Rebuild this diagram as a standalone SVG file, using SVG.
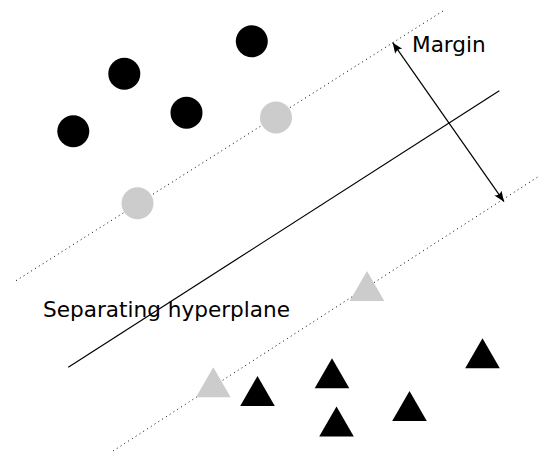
<svg xmlns="http://www.w3.org/2000/svg" width="549" height="455" viewBox="0 0 549 455">
  <style>
    .pos { fill: #000000; }
    .sv { fill: #cccccc; }
    .dot { fill: none; stroke: #000000; stroke-width: 1; stroke-dasharray: 1 3.5; }
    .solid { fill: none; stroke: #000000; stroke-width: 1.2; }
    .lbl { font-family: "DejaVu Sans", "Liberation Sans", sans-serif; font-size: 21.6px; fill: #000000; }
  </style>
  <defs>
    <marker id="ah" viewBox="-12 -6 13 12" refX="0" refY="0" markerWidth="13" markerHeight="12" markerUnits="userSpaceOnUse" orient="auto-start-reverse">
      <path d="M0,0 L-10.5,-4.3 Q-7.5,0 -10.5,4.3 Z" fill="#000000"/>
    </marker>
  </defs>
  <rect x="0" y="0" width="549" height="455" fill="#ffffff"/>
  <g id="connectors">
    <line class="dot" x1="16" y1="280.7" x2="443" y2="11"/>
    <line class="dot" x1="113" y1="451" x2="538.5" y2="176.5"/>
    <line class="solid" x1="68.3" y1="367.3" x2="499.3" y2="90.7"/>
    <line class="solid" x1="392.7" y1="42.7" x2="504" y2="201.7" marker-start="url(#ah)" marker-end="url(#ah)"/>
  </g>
  <g id="circle1"><circle class="pos" cx="73.3" cy="131.3" r="16"/></g>
  <g id="circle2"><circle class="pos" cx="124.3" cy="73.8" r="16"/></g>
  <g id="circle3"><circle class="pos" cx="186.5" cy="112.8" r="16"/></g>
  <g id="circle4"><circle class="pos" cx="251.8" cy="41.3" r="16"/></g>
  <g id="circle-sv1"><circle class="sv" cx="276" cy="117.5" r="16"/></g>
  <g id="circle-sv2"><circle class="sv" cx="137.5" cy="203.3" r="16"/></g>
  <g id="tri-sv1"><polygon class="sv" points="213.3,367.3 230.6,397.3 196,397.3"/></g>
  <g id="tri-sv2"><polygon class="sv" points="367,271 384.3,301 349.7,301"/></g>
  <g id="tri1"><polygon class="pos" points="257.5,376 274.8,406 240.2,406"/></g>
  <g id="tri2"><polygon class="pos" points="332,358.3 349.3,388.3 314.7,388.3"/></g>
  <g id="tri3"><polygon class="pos" points="336.5,406.5 353.8,436.5 319.2,436.5"/></g>
  <g id="tri4"><polygon class="pos" points="409.5,391 426.8,421 392.2,421"/></g>
  <g id="tri5"><polygon class="pos" points="482.5,338.3 499.8,368.3 465.2,368.3"/></g>
  <g id="label-margin"><text class="lbl" x="412" y="52.3">Margin</text></g>
  <g id="label-hyperplane"><text class="lbl" x="43" y="316.5">Separating hyperplane</text></g>
</svg>
